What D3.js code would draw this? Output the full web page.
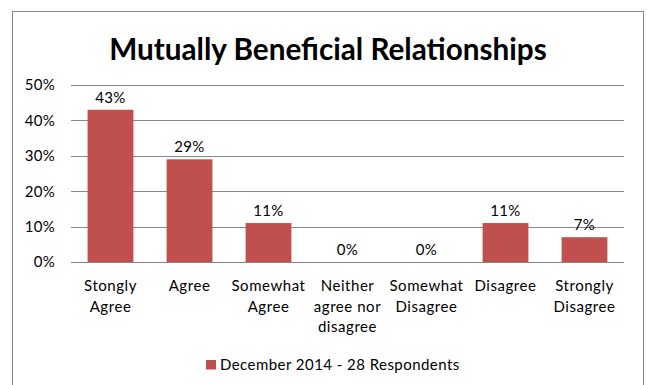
<!DOCTYPE html>
<html>
<head>
<meta charset="utf-8">
<script src="https://cdn.jsdelivr.net/npm/d3@7"></script>
<style>
  html, body { margin: 0; padding: 0; background: #fff; }
  svg { display: block; }
  text { font-family: Lato, "Open Sans", sans-serif; fill: #000; }
</style>
</head>
<body>
<svg id="chart" width="647" height="385"></svg>
<script>
// Survey responses, share of respondents
const categories = [
  ["Stongly", "Agree"],
  ["Agree"],
  ["Somewhat", "Agree"],
  ["Neither", "agree nor", "disagree"],
  ["Somewhat", "Disagree"],
  ["Disagree"],
  ["Strongly", "Disagree"]
];
const values = [0.43, 0.29, 0.11, 0, 0, 0.11, 0.07];
const yTicks = [0, 0.1, 0.2, 0.3, 0.4, 0.5];
const title = "Mutually Beneficial Relationships";
const seriesName = "December 2014 - 28 Respondents";
const barColor = "#C0504D";

const svg = d3.select("#chart");
const W = 647, H = 385;
const pct = d3.format(".0%");

// chart frame
svg.append("rect")
  .attr("x", 12.5).attr("y", 11.5)
  .attr("width", 631).attr("height", H)
  .attr("fill", "#fff").attr("stroke", "#868686").attr("stroke-width", 1);

// title
svg.append("text")
  .attr("x", 328).attr("y", 60)
  .attr("text-anchor", "middle")
  .attr("font-size", 29.7).attr("font-weight", "bold")
  .text(title);

const plot = { left: 71, right: 624, top: 85, bottom: 262 };

const x = d3.scaleBand()
  .domain(d3.range(categories.length))
  .range([plot.left, plot.right])
  .paddingInner(0.42).paddingOuter(0.21);

const y = d3.scaleLinear()
  .domain([0, 0.5])
  .range([plot.bottom, plot.top]);

// gridlines
svg.append("g")
  .selectAll("line")
  .data(yTicks)
  .join("line")
  .attr("x1", plot.left).attr("x2", plot.right)
  .attr("y1", d => Math.round(y(d)) + 0.5)
  .attr("y2", d => Math.round(y(d)) + 0.5)
  .attr("stroke", "#868686").attr("stroke-width", 1);

// y axis labels
const yAxis = d3.axisLeft(y)
  .tickValues(yTicks)
  .tickFormat(pct)
  .tickSize(0).tickPadding(0);
const yg = svg.append("g")
  .attr("transform", `translate(${plot.left - 16},0)`)
  .call(yAxis);
yg.select(".domain").remove();
yg.selectAll("text")
  .attr("font-family", "Lato, sans-serif")
  .attr("font-size", 15).attr("fill", "#000")
  .attr("letter-spacing", 0.3);

// bars
svg.append("g")
  .selectAll("rect")
  .data(values)
  .join("rect")
  .attr("x", (d, i) => x(i))
  .attr("width", x.bandwidth())
  .attr("y", d => y(d))
  .attr("height", d => y(0) - y(d))
  .attr("fill", barColor);

// value labels
svg.append("g")
  .selectAll("text")
  .data(values)
  .join("text")
  .attr("x", (d, i) => x(i) + x.bandwidth() / 2)
  .attr("y", d => y(d) - 7)
  .attr("text-anchor", "middle")
  .attr("font-size", 15)
  .attr("letter-spacing", 0.3)
  .text(d => pct(d));

// category labels
const xAxis = d3.axisBottom(x).tickSize(0).tickPadding(0).tickFormat("");
const xg = svg.append("g")
  .attr("transform", `translate(0,${plot.bottom})`)
  .call(xAxis);
xg.select(".domain").remove();
xg.selectAll(".tick").each(function(i) {
  const t = d3.select(this).append("text")
    .attr("text-anchor", "middle")
    .attr("font-size", 15)
    .attr("letter-spacing", 0.55)
    .attr("fill", "#000");
  categories[i].forEach((line, k) => {
    t.append("tspan").attr("x", 0).attr("y", 29 + k * 20.5).text(line);
  });
});

// legend
const legend = svg.append("g").attr("transform", "translate(206,360)");
legend.append("rect").attr("width", 10).attr("height", 9.5).attr("fill", barColor);
legend.append("text")
  .attr("x", 14).attr("y", 9.5)
  .attr("font-size", 15)
  .attr("letter-spacing", 0.45)
  .text(seriesName);
</script>
</body>
</html>
